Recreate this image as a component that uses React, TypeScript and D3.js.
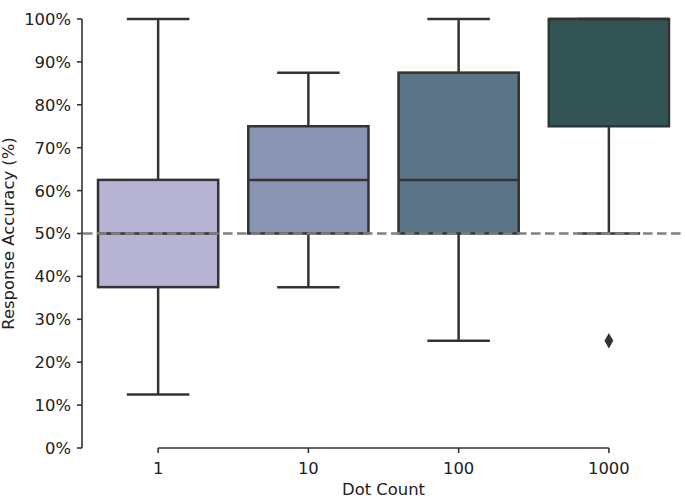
import * as d3 from "d3"

const categories = ["1", "10", "100", "1000"]
const whiskerLow = [12.5, 37.5, 25, 50]
const q1 = [37.5, 50, 50, 75]
const medians = [50, 62.5, 62.5, 100]
const q3 = [62.5, 75, 87.5, 100]
const whiskerHigh = [100, 87.5, 100, 100]
const outliers = [[], [], [], [25]]
const boxColors = ["#b7b3d3", "#8994b2", "#5b7586", "#325455"]
const yTicks = d3.range(0, 101, 10)
const chanceLevel = 50

const width = 685
const height = 496
const left = 83
const right = 684
const top = 19
const bottom = 448
const edge = "#333333"
const textColor = "#222222"
const font = "DejaVu Sans, sans-serif"
const fs = 16.4

export default function App() {
  const x = d3.scaleBand<string>().domain(categories).range([left, right]).padding(0)
  const y = d3.scaleLinear().domain([0, 100]).range([bottom, top])
  const bw = x.bandwidth()
  const boxW = bw * 0.8
  const capW = boxW * 0.52
  const cx = (c: string) => (x(c) as number) + bw / 2

  const diamond = d3.symbol().type(d3.symbolDiamond).size(68)

  return (
    <svg
      width={width}
      height={height}
      style={{ position: "absolute", left: 0, top: 0, display: "block" }}
      fontFamily={font}
    >
      {categories.map((c, i) => {
        const xc = cx(c)
        return (
          <g key={c}>
            <line x1={xc} x2={xc} y1={y(q1[i])} y2={y(whiskerLow[i])} stroke={edge} strokeWidth={2.5} />
            <line x1={xc} x2={xc} y1={y(q3[i])} y2={y(whiskerHigh[i])} stroke={edge} strokeWidth={2.5} />
            <line x1={xc - capW / 2} x2={xc + capW / 2} y1={y(whiskerLow[i])} y2={y(whiskerLow[i])} stroke={edge} strokeWidth={2.5} />
            <line x1={xc - capW / 2} x2={xc + capW / 2} y1={y(whiskerHigh[i])} y2={y(whiskerHigh[i])} stroke={edge} strokeWidth={2.5} />
            <rect
              x={xc - boxW / 2}
              y={y(q3[i])}
              width={boxW}
              height={y(q1[i]) - y(q3[i])}
              fill={boxColors[i]}
              stroke={edge}
              strokeWidth={2.5}
            />
            <line x1={xc - boxW / 2} x2={xc + boxW / 2} y1={y(medians[i])} y2={y(medians[i])} stroke={edge} strokeWidth={2.5} />
            {outliers[i].map((v, j) => (
              <path key={j} d={diamond() as string} transform={`translate(${xc},${y(v)})`} fill={edge} />
            ))}
          </g>
        )
      })}

      {/* chance level */}
      <line
        x1={left}
        x2={right}
        y1={y(chanceLevel)}
        y2={y(chanceLevel)}
        stroke="#808080"
        strokeWidth={2.5}
        strokeDasharray="9.5,4.5"
      />

      {/* y axis */}
      <line x1={82} x2={82} y1={y(100)} y2={y(0)} stroke={edge} strokeWidth={1.6} />
      {yTicks.map((t) => (
        <g key={t}>
          <line x1={77} x2={82} y1={y(t)} y2={y(t)} stroke={edge} strokeWidth={1.6} />
          <text x={71} y={y(t)} dy="0.36em" textAnchor="end" fontSize={fs} fill={textColor}>
            {`${t}%`}
          </text>
        </g>
      ))}
      <text
        transform={`translate(14,${(top + bottom) / 2}) rotate(-90)`}
        textAnchor="middle"
        fontSize={fs}
        fill={textColor}
      >
        Response Accuracy (%)
      </text>

      {/* x axis */}
      <line x1={cx(categories[0])} x2={cx(categories[categories.length - 1])} y1={bottom} y2={bottom} stroke={edge} strokeWidth={1.6} />
      {categories.map((c) => (
        <g key={c}>
          <line x1={cx(c)} x2={cx(c)} y1={bottom} y2={bottom + 5} stroke={edge} strokeWidth={1.6} />
          <text x={cx(c)} y={473.5} textAnchor="middle" fontSize={fs} fill={textColor}>
            {c}
          </text>
        </g>
      ))}
      <text x={(left + right) / 2} y={494.5} textAnchor="middle" fontSize={fs} fill={textColor}>
        Dot Count
      </text>
    </svg>
  )
}
